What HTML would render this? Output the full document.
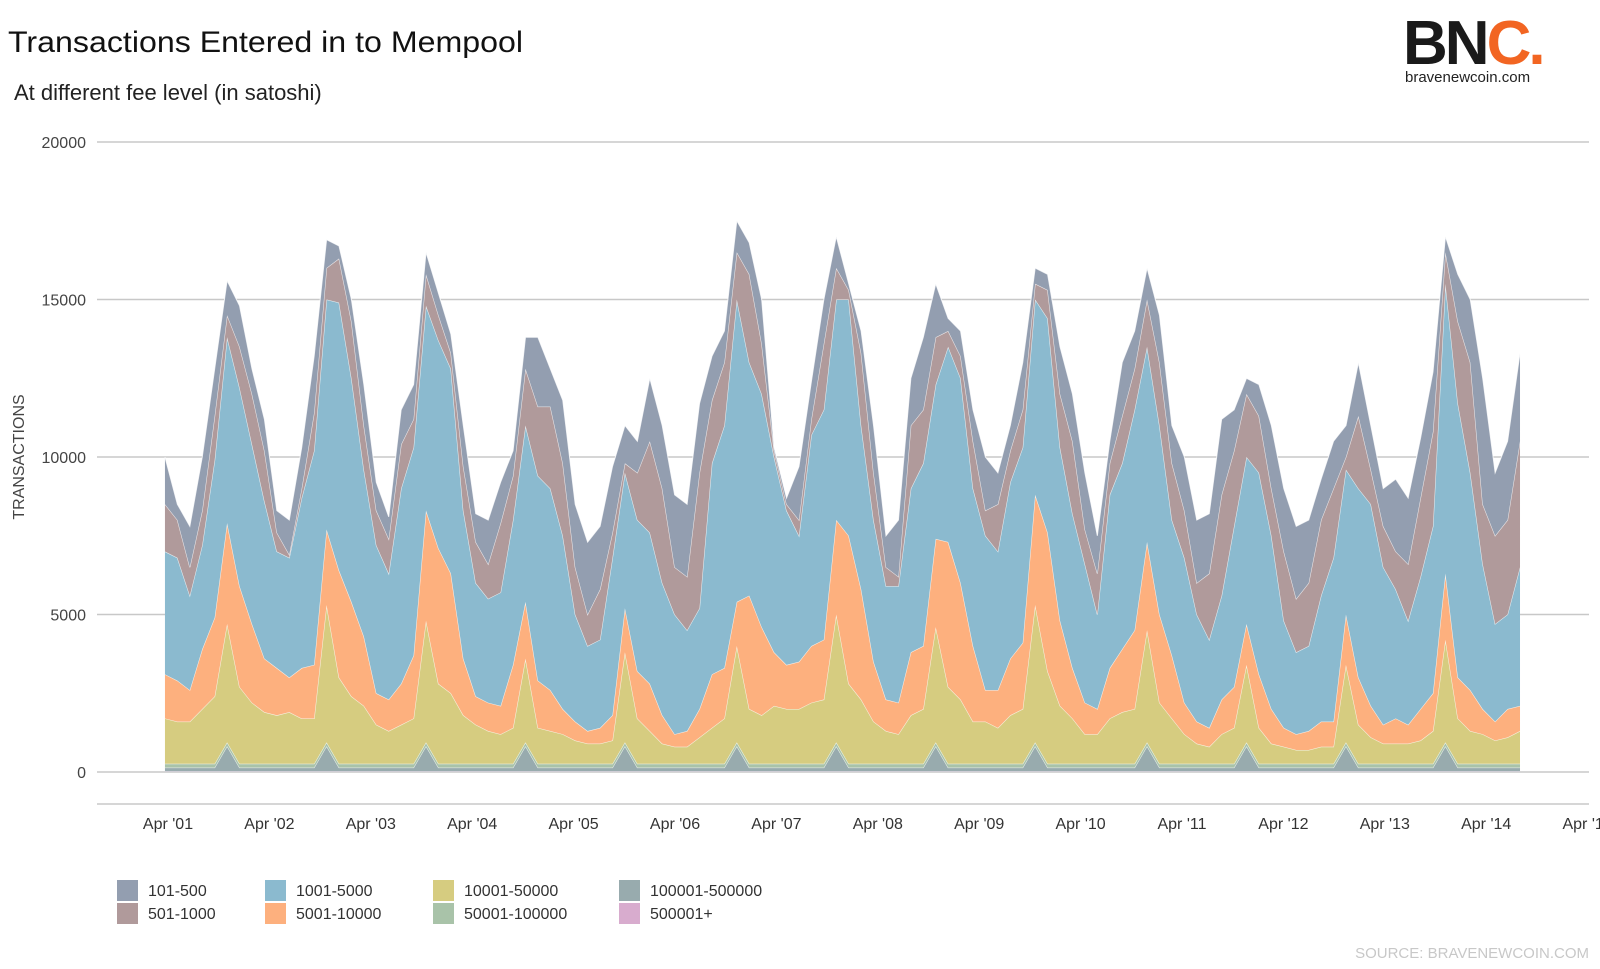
<!DOCTYPE html>
<html><head><meta charset="utf-8">
<style>
html,body{margin:0;padding:0;background:#fff;width:1600px;height:969px;overflow:hidden;font-family:"Liberation Sans",sans-serif}
svg{display:block}
</style></head>
<body>
<svg id="chart" width="1600" height="969" viewBox="0 0 1600 969">
  <text x="8" y="52" font-size="30" fill="#111" textLength="515" lengthAdjust="spacingAndGlyphs">Transactions Entered in to Mempool</text>
  <text x="14" y="100" font-size="22" fill="#222">At different fee level (in satoshi)</text>
  <g>
    <text x="1403" y="64" font-size="62" font-weight="bold" fill="#1a1a1a" letter-spacing="-3">BN<tspan fill="#f26522">C.</tspan></text>
    <text x="1405" y="82" font-size="15" fill="#222">bravenewcoin.com</text>
  </g>
  <text x="24" y="457" font-size="16" fill="#444" transform="rotate(-90 24 457)" text-anchor="middle">TRANSACTIONS</text>
  <g id="grid"></g>
  <g id="areas"></g>
  <g id="xaxis"></g>
  <g id="legend"></g>
  <text x="1589" y="958" font-size="15" fill="#c8c8c8" text-anchor="end">SOURCE: BRAVENEWCOIN.COM</text>
</svg>
<script>
const startDay = 0.97;
const stepDay = 0.1226;
const yTicks = [0, 5000, 10000, 15000, 20000];
const xTickDays = [1,2,3,4,5,6,7,8,9,10,11,12,13,14,15];
const xTickLabels = ["Apr '01","Apr '02","Apr '03","Apr '04","Apr '05","Apr '06","Apr '07","Apr '08","Apr '09","Apr '10","Apr '11","Apr '12","Apr '13","Apr '14","Apr '15"];
const seriesNames = ["500001+","100001-500000","50001-100000","10001-50000","5001-10000","1001-5000","501-1000","101-500"];
const seriesColors = ["#d8acce","#98abae","#a9c3a9","#d6cc80","#fdb07e","#8bbacf","#b09a9b","#939eb0"];

const spikeIdx = [5,13,21,29,37,46,54,62,70,79,87,95,103];
const s500k = new Array(110).fill(20);
const s100k = new Array(110).fill(120);
spikeIdx.forEach(i => { s100k[i] = 800; });
const s50k = new Array(110).fill(120);

const s10k = [1440,1340,1340,1740,2140,3760,2440,1940,1640,1540,1640,1440,1440,4360,2740,2140,1840,1240,1040,1240,1440,3860,2540,2240,1540,1240,1040,940,1140,2660,1140,1040,940,740,640,640,740,2860,1440,1040,640,540,540,840,1140,1440,3060,1740,1540,1840,1740,1740,1940,2040,4060,2540,2040,1340,1040,940,1540,1740,3660,2440,2040,1340,1340,1140,1540,1740,4360,2940,1840,1440,940,940,1440,1640,1740,3560,1940,1440,940,640,540,940,1140,2460,1140,640,540,440,440,540,540,2460,1240,840,640,640,640,740,1040,3260,1440,1040,940,740,840,1040];
const s5k = [1400,1300,1000,1900,2500,3200,3200,2500,1700,1500,1100,1600,1700,2400,3400,3000,2200,1000,1000,1300,2000,3500,4300,3800,1800,900,900,900,2000,1800,1500,1300,800,600,400,500,800,1400,1500,1500,900,400,500,900,1700,1600,1400,3600,2800,1700,1400,1500,1800,1900,3000,4700,3500,1900,1000,1000,2000,2000,2800,4600,3700,2400,1000,1200,1800,2100,3500,4400,2700,1600,1000,800,1600,2000,2500,2800,2800,2000,1000,700,600,1100,1300,1300,1700,1100,600,500,600,800,800,1600,1500,1000,600,800,600,1000,1200,2100,1300,1300,800,600,900,800];
const s1k = [3900,3900,3000,3300,5000,5900,6300,5700,5000,3700,3800,5400,6800,7300,8500,7100,5300,4700,4000,6200,6600,6500,6600,6500,4700,3600,3300,3600,4600,5600,6500,6400,5500,3400,2700,2800,5000,4300,4800,4800,4200,3800,3200,3200,6700,7700,9600,7400,7400,6200,4900,4000,6700,7300,7000,7500,5200,4500,3600,3700,5200,5800,4900,6200,6500,5000,4900,4400,5600,6200,6200,6800,5500,4900,4400,3000,5500,5900,7000,6200,6000,4300,4600,3400,2800,3300,5100,5300,6400,5500,3400,2600,2700,4000,5200,4600,6000,6400,5000,4100,3300,4200,5300,9200,8700,6900,4600,3100,3000,4400];
const s501 = [1500,1200,900,1100,1400,700,1300,1600,1600,600,100,300,1200,1000,1400,1800,1400,1100,1100,1400,900,1000,800,500,1400,1300,1100,2200,1400,1800,2200,2600,2300,1500,1000,1600,800,300,1500,2900,3000,1500,1700,4300,2000,2000,1500,2800,1600,200,200,500,500,2100,1000,300,2300,1500,600,300,2000,1700,1500,500,700,1500,800,1500,1000,1200,500,900,1700,2300,1100,1300,1000,1500,1300,1500,2000,1800,1500,1000,2100,3200,2400,2000,1800,1500,2200,1700,2000,2400,2200,400,2300,1100,1300,1200,1800,2500,3000,1000,2600,3500,1900,2800,3000,4000];
const s101 = [1500,500,1300,1700,1500,1100,1300,800,1000,700,1100,1300,1800,900,400,700,1300,900,700,1100,1100,700,700,600,1300,900,1400,1300,800,1000,2200,1200,2000,2000,2300,2000,2100,1200,1000,2000,2000,2300,2300,2200,1400,1000,1000,1000,1400,100,200,1700,1200,1400,1000,200,700,1500,1000,1800,1500,2300,1700,400,800,1000,1700,1000,800,1500,500,500,1500,1500,1800,1200,700,1700,1200,1000,1500,1200,1700,2000,1900,2400,1300,500,1000,2000,2000,2300,2000,1300,1500,1000,1700,1400,1200,2300,2100,1900,1900,500,1500,2000,4000,2000,2500,2800];

const seriesData = [s500k, s100k, s50k, s10k, s5k, s1k, s501, s101];

const NS = "http://www.w3.org/2000/svg";
const X0 = 168, PXDAY = 101.4, Y0 = 772, PXUNIT = 157.5 / 5000;
function xScale(day) { return X0 + (day - 1) * PXDAY; }
function yScale(v) { return Y0 - v * PXUNIT; }
function mk(tag, attrs) { const e = document.createElementNS(NS, tag); for (const k in attrs) e.setAttribute(k, attrs[k]); return e; }

// grid
const grid = document.getElementById('grid');
yTicks.forEach(v => {
  const ln = mk('line', {x1: 97, x2: 1589, y1: yScale(v), y2: yScale(v), stroke: '#c8c8c8', 'stroke-width': 1.5});
  
  
  grid.appendChild(ln);
  const t = mk('text', {x: 86, y: yScale(v) + 6, 'font-size': 16, fill: '#444', 'text-anchor': 'end'});
  t.textContent = String(v);
  
  
  grid.appendChild(t);
});

// areas
const areas = document.getElementById('areas');
const n = s101.length;
const xs = [];
for (let i = 0; i < n; i++) xs.push(xScale(startDay + i * stepDay));
let lower = new Array(n).fill(0);
seriesData.forEach((arr, si) => {
  const upper = lower.map((l, i) => l + arr[i]);
  let d = 'M' + xs[0] + ',' + yScale(upper[0]);
  for (let i = 1; i < n; i++) d += 'L' + xs[i] + ',' + yScale(upper[i]);
  for (let i = n - 1; i >= 0; i--) d += 'L' + xs[i] + ',' + yScale(lower[i]);
  d += 'Z';
  const p = mk('path', {d: d, fill: seriesColors[si]});
  
  
  areas.appendChild(p);
  let dl = 'M' + xs[0] + ',' + yScale(upper[0]);
  for (let i = 1; i < n; i++) dl += 'L' + xs[i] + ',' + yScale(upper[i]);
  const l = mk('path', {d: dl, fill: 'none', stroke: '#ffffff', 'stroke-width': 1, 'stroke-opacity': 0.8});
  
  
  areas.appendChild(l);
  lower = upper;
});

// x axis
const xa = document.getElementById('xaxis');
const axl = mk('line', {x1: 97, x2: 1589, y1: 804, y2: 804, stroke: '#c8c8c8', 'stroke-width': 1.5});


xa.appendChild(axl);
xTickDays.forEach((d, i) => {
  const t = mk('text', {x: xScale(d), y: 829, 'font-size': 16, fill: '#333', 'text-anchor': 'middle'});
  t.textContent = xTickLabels[i];
  
  
  xa.appendChild(t);
});

// legend
const legendOrder = [7, 6, 5, 4, 3, 2, 1, 0];
const legCols = [117, 265, 433, 619];
const leg = document.getElementById('legend');
legendOrder.forEach((si, j) => {
  const col = Math.floor(j / 2), row = j % 2;
  const g = mk('g', {});
  
  
  const r = mk('rect', {x: legCols[col], y: 880 + row * 23, width: 21, height: 21, fill: seriesColors[si]});
  
  
  const t = mk('text', {x: legCols[col] + 31, y: 896 + row * 23, 'font-size': 16, fill: '#333'});
  t.textContent = seriesNames[si];
  
  
  g.appendChild(r); g.appendChild(t);
  leg.appendChild(g);
});
</script>
</body></html>
